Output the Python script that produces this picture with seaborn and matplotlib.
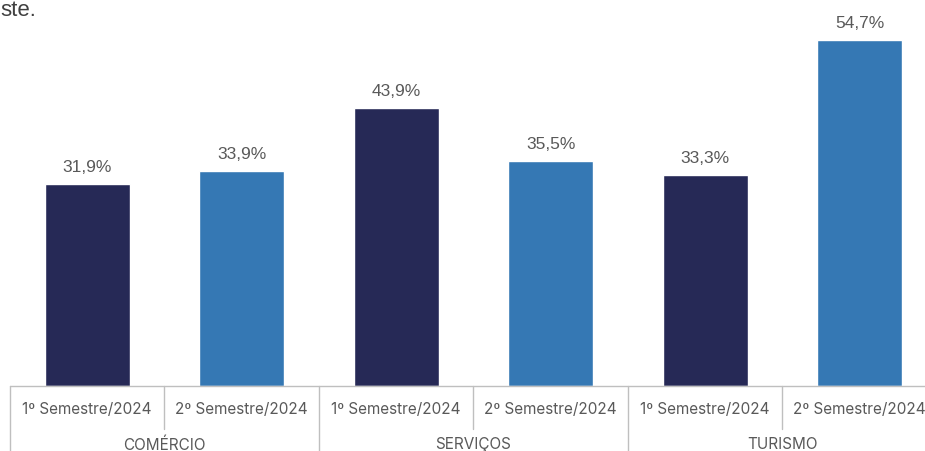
import matplotlib
matplotlib.use("Agg")
import matplotlib.pyplot as plt
import seaborn as sns
import pandas as pd
from matplotlib.transforms import blended_transform_factory

# Data
sectors = ["COMÉRCIO", "SERVIÇOS", "TURISMO"]
semesters = ["1º Semestre/2024", "2º Semestre/2024"]
values = [31.9, 33.9, 43.9, 35.5, 33.3, 54.7]

rows = []
for i, sector in enumerate(sectors):
    for j, sem in enumerate(semesters):
        rows.append({"key": f"{sector}|{sem}", "sector": sector,
                     "semester": sem, "value": values[i * 2 + j]})
df = pd.DataFrame(rows)

sns.set_theme(style="white")
plt.rcParams["font.family"] = ["Liberation Sans", "DejaVu Sans"]

fig = plt.figure(figsize=(9.25, 4.52), dpi=100)
W, H = 925, 452
slot = 154.5
ax = fig.add_axes([10 / W, (H - 387) / H, 6 * slot / W, 387 / H])

palette = {"1º Semestre/2024": "#262956", "2º Semestre/2024": "#3578b4"}
sns.barplot(data=df, x="key", y="value", hue="semester", palette=palette,
            dodge=False, width=0.55, ax=ax, legend=False, saturation=1)

ax.set_xlim(-0.5, 5.5)
ax.set_ylim(0, 387 / 6.33)
ax.set_xlabel("")
ax.set_ylabel("")
ax.set_xticks([])
ax.set_yticks([])
for s in ax.spines.values():
    s.set_visible(False)

# value labels
for k, v in enumerate(values):
    ax.annotate(f"{v:.1f}%".replace(".", ","), (k, v),
                xytext=(0, 13), textcoords="offset pixels",
                ha="center", va="baseline", fontsize=12.5, color="#595959")

# category axis with grouped labels
line_c = "#bfbfbf"
trans = blended_transform_factory(ax.transData, ax.transAxes)
ax.plot([-0.5, 5.5], [0, 0], transform=trans, color=line_c, lw=1, clip_on=False)
for b in [-0.5, 1.5, 3.5, 5.5]:
    ax.plot([b, b], [0, -65 / 387], transform=trans, color=line_c, lw=1, clip_on=False)
for b in [0.5, 2.5, 4.5]:
    ax.plot([b, b], [0, -43 / 387], transform=trans, color=line_c, lw=1, clip_on=False)

lab_font = ["Inter", "DejaVu Sans"]
for k in range(6):
    ax.text(k, -23 / 387, semesters[k % 2], transform=trans, ha="center",
            va="center", fontsize=11, color="#595959", family=lab_font)
for i, sector in enumerate(sectors):
    ax.text(2 * i + 0.5, -58 / 387, sector, transform=trans, ha="center",
            va="center", fontsize=11, color="#595959", family=lab_font)

fig.text(0, 1 - 16 / H, "ste.", ha="left", va="baseline",
         fontsize=16, color="#404040")

fig.savefig("out.png", dpi=100)
